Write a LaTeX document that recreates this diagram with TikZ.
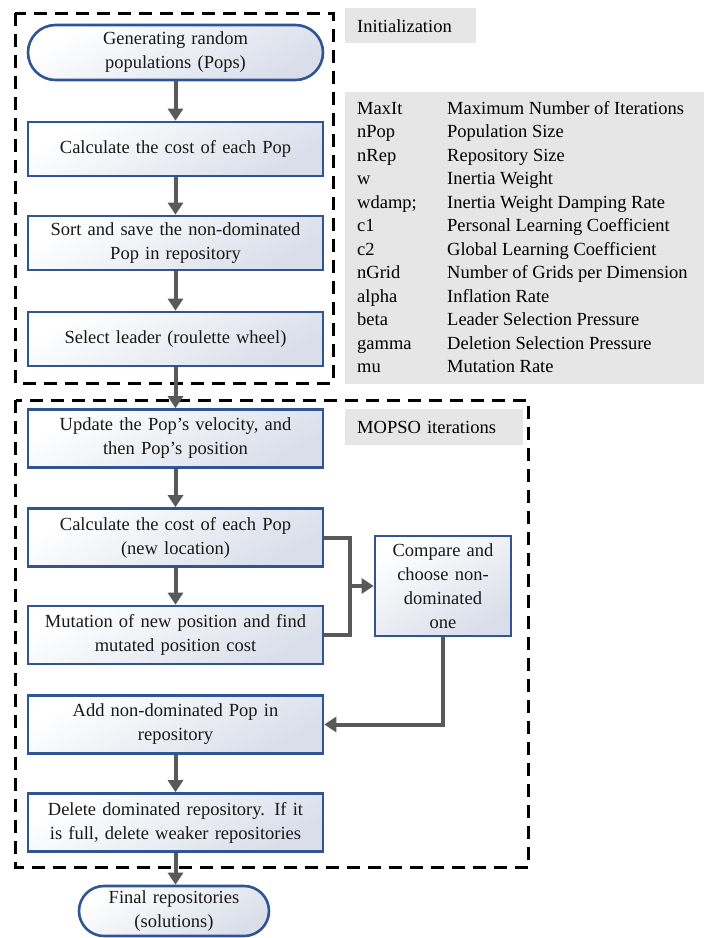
\documentclass[tikz,border=0pt]{standalone}
\usepackage{fontspec}
\setmainfont{Liberation Serif}
\usetikzlibrary{arrows.meta}
\definecolor{nodeblue}{HTML}{2F5597}
\definecolor{arrgray}{HTML}{595959}
\definecolor{labgray}{HTML}{E6E6E6}
\definecolor{shadebot}{HTML}{D9DEEA}
\begin{document}
\begin{tikzpicture}[x=1pt,y=-1pt,
  flowbox/.style={draw=nodeblue, line width=2.6pt, top color=white, bottom color=shadebot, shading angle=30,
    minimum width=295pt, minimum height=58pt, text width=289pt, align=center,
    font=\fontsize{18.5}{24}\selectfont, inner sep=0pt, text=black!90},
  stadium/.style={flowbox, rounded corners=#1},
  flowarrow/.style={draw=arrgray, line width=4pt, -{Triangle[length=12pt,width=15pt]}},
  flowline/.style={draw=arrgray, line width=4pt},
  groupbox/.style={draw=black, line width=3pt, dash pattern=on 13pt off 8pt},
  labelbox/.style={fill=labgray, anchor=north west, inner xsep=12pt, inner ysep=0pt, align=left,
    font=\fontsize{18.5}{22}\selectfont},
  partext/.style={anchor=base west, inner sep=0pt, font=\fontsize{18.5}{22}\selectfont}
]
\useasboundingbox (0,0) rectangle (704,938);
% group boxes
\draw[groupbox] (15,13) rectangle (333,383);
\draw[groupbox] (15.5,400) rectangle (528,867);
% labels
\node[labelbox, minimum width=131pt, minimum height=35pt, text width=107pt] (initlab) at (345,8) {Initialization};
\node[fill=labgray, anchor=north west, minimum width=359pt, minimum height=292pt, inner sep=0pt] (params) at (345,92) {};
\foreach \a/\b [count=\i] in {MaxIt/Maximum Number of Iterations, nPop/Population Size, nRep/Repository Size,
  w/Inertia Weight, {wdamp;}/Inertia Weight Damping Rate, c1/Personal Learning Coefficient,
  c2/Global Learning Coefficient, nGrid/Number of Grids per Dimension, alpha/Inflation Rate,
  beta/Leader Selection Pressure, gamma/Deletion Selection Pressure, mu/Mutation Rate}{
  \node[partext] (pk\i) at (357,{114+23.5*(\i-1)}) {\a};
  \node[partext] (pd\i) at (447,{114+23.5*(\i-1)}) {\b};
}
\node[labelbox, minimum width=178pt, minimum height=36pt, text width=154pt] (mopsolab) at (345,409) {MOPSO iterations};
% flow nodes
\node[stadium=27.5pt, minimum height=55pt] (start) at (175.5,52.5) {Generating random\\populations (Pops)};
\node[flowbox, minimum height=54pt] (calc1) at (175.5,149) {Calculate the cost of each Pop};
\node[flowbox, minimum height=54pt] (sort) at (175.5,243) {Sort and save the non-dominated\\Pop in repository};
\node[flowbox, minimum height=54pt] (sel) at (175.5,339) {Select leader (roulette wheel)};
\node[flowbox] (upd) at (175.5,438.5) {Update the Pop’s velocity, and\\then Pop’s position};
\node[flowbox] (calc2) at (175.5,537.5) {Calculate the cost of each Pop\\(new location)};
\node[flowbox] (mut) at (175.5,635) {Mutation of new position and find\\mutated position cost};
\node[flowbox] (add) at (175.5,724.5) {Add non-dominated Pop in\\repository};
\node[flowbox] (del) at (175.5,822.5) {Delete dominated repository. If it\\is full, delete weaker repositories};
\node[stadium=25pt, minimum width=190pt, text width=184pt, minimum height=50pt] (final) at (174,911) {Final repositories\\(solutions)};
\node[flowbox, minimum width=136pt, text width=132pt, minimum height=100pt] (cmp) at (443,586) {Compare and\\choose non-\\dominated\\one};
% connectors
\draw[flowarrow] (start) -- (calc1);
\draw[flowarrow] (calc1) -- (sort);
\draw[flowarrow] (sort) -- (sel);
\draw[flowarrow] (sel) -- (upd);
\draw[flowarrow] (upd) -- (calc2);
\draw[flowarrow] (calc2) -- (mut);
\draw[flowarrow] (add) -- (del);
\draw[flowarrow] (del.south) -- (final.north -| del.south);
\coordinate (jx) at (349.5,586);
\draw[flowline] (calc2.east) -| (jx) |- (mut.east);
\draw[flowarrow] (jx) -- (cmp.west);
\draw[flowarrow] (cmp.south) |- (add.east);
\end{tikzpicture}
\end{document}
